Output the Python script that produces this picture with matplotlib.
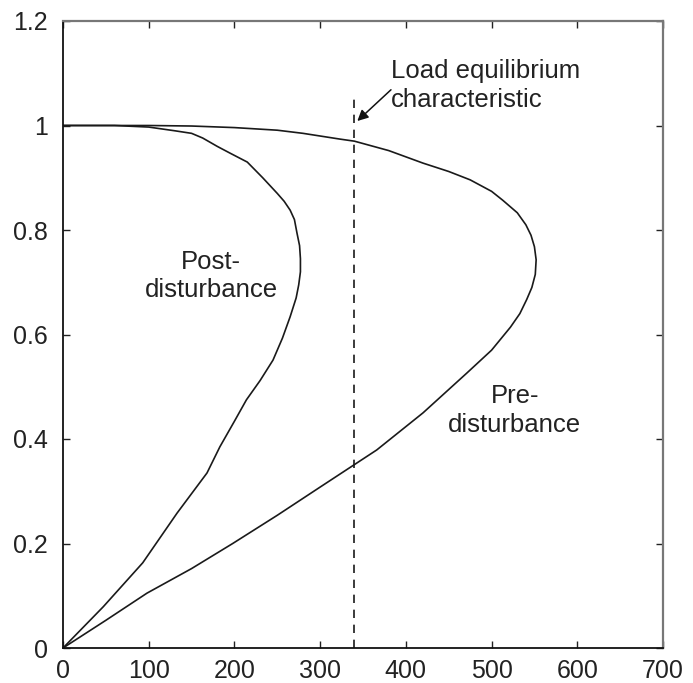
import matplotlib
matplotlib.use("Agg")
import matplotlib.pyplot as plt

plt.rcParams.update({
    "font.family": ["Liberation Sans", "DejaVu Sans"],
    "font.size": 18,
})

# ------------------ DATA ------------------ #
# Pre-disturbance PV (nose) curve: power vs voltage
pre_p = [0, 60, 100, 150, 200, 250, 280, 323, 340, 380, 420, 450, 475, 500,
         513, 530, 540, 546, 550, 552, 551, 547, 541, 533, 522, 500, 471,
         420, 366, 300, 250, 198, 150, 98, 50, 0]
pre_v = [1.0, 1.0, 1.0, 0.999, 0.996, 0.991, 0.985, 0.974, 0.970, 0.952,
         0.928, 0.912, 0.896, 0.874, 0.857, 0.833, 0.810, 0.790, 0.768,
         0.743, 0.715, 0.690, 0.667, 0.640, 0.614, 0.570, 0.526, 0.450,
         0.379, 0.308, 0.254, 0.200, 0.152, 0.105, 0.053, 0.0]

# Post-disturbance PV curve
post_p = [0, 60, 100, 130, 150, 163, 180, 195, 215, 233, 250, 258, 265, 270,
          273, 276, 277, 277, 275, 272, 265, 256, 245, 230, 214, 200, 183,
          168, 133, 93, 47, 0]
post_v = [1.0, 1.0, 0.997, 0.99, 0.985, 0.976, 0.96, 0.947, 0.93, 0.90, 0.87,
          0.855, 0.838, 0.82, 0.794, 0.77, 0.745, 0.72, 0.695, 0.67, 0.634,
          0.593, 0.551, 0.512, 0.475, 0.434, 0.385, 0.335, 0.258, 0.163,
          0.079, 0.0]

# Load equilibrium characteristic (constant power load)
load_p = [340, 340]
load_v = [0.0, 1.06]

x_ticks = [0, 100, 200, 300, 400, 500, 600, 700]
y_ticks = [0, 0.2, 0.4, 0.6, 0.8, 1.0, 1.2]
y_labels = ["0", "0.2", "0.4", "0.6", "0.8", "1", "1.2"]

# ------------------ PLOT ------------------ #
fig = plt.figure(figsize=(6.93, 6.83), dpi=100)
ax = fig.add_axes([63 / 693, 1 - 648 / 683, 600 / 693, 627 / 683])

ax.plot(pre_p, pre_v, color="#1a1a1a", lw=1.2)
ax.plot(post_p, post_v, color="#1a1a1a", lw=1.2)
ax.plot(load_p, load_v, color="#1a1a1a", lw=1.2, ls=(0, (5, 4)))

ax.set_xlim(0, 700)
ax.set_ylim(0, 1.2)
ax.set_xticks(x_ticks)
ax.set_yticks(y_ticks)
ax.set_yticklabels(y_labels)
ax.tick_params(direction="in", length=5, width=1, top=True, right=True,
               labelsize=18, colors="#222222")
ax.tick_params(axis="x", pad=8)
ax.tick_params(axis="y", pad=11)

for side in ["left", "bottom"]:
    ax.spines[side].set_color("#111111")
    ax.spines[side].set_linewidth(1.3)
for side in ["top", "right"]:
    ax.spines[side].set_color("#777777")
    ax.spines[side].set_linewidth(1.6)

ax.text(383, 1.076, "Load equilibrium\ncharacteristic", fontsize=18.5,
        color="#222222", ha="left", va="center", linespacing=1.25)
ax.annotate("", xy=(341, 1.005), xytext=(385, 1.072),
            arrowprops=dict(arrowstyle="-|>", color="#111111", lw=1.1,
                            mutation_scale=16))
ax.text(173, 0.712, "Post-\ndisturbance", fontsize=18.5, color="#222222",
        ha="center", va="center", linespacing=1.25)
ax.text(527, 0.455, "Pre-\ndisturbance", fontsize=18.5, color="#222222",
        ha="center", va="center", linespacing=1.25)

plt.savefig("out.png", dpi=100)
plt.close()
